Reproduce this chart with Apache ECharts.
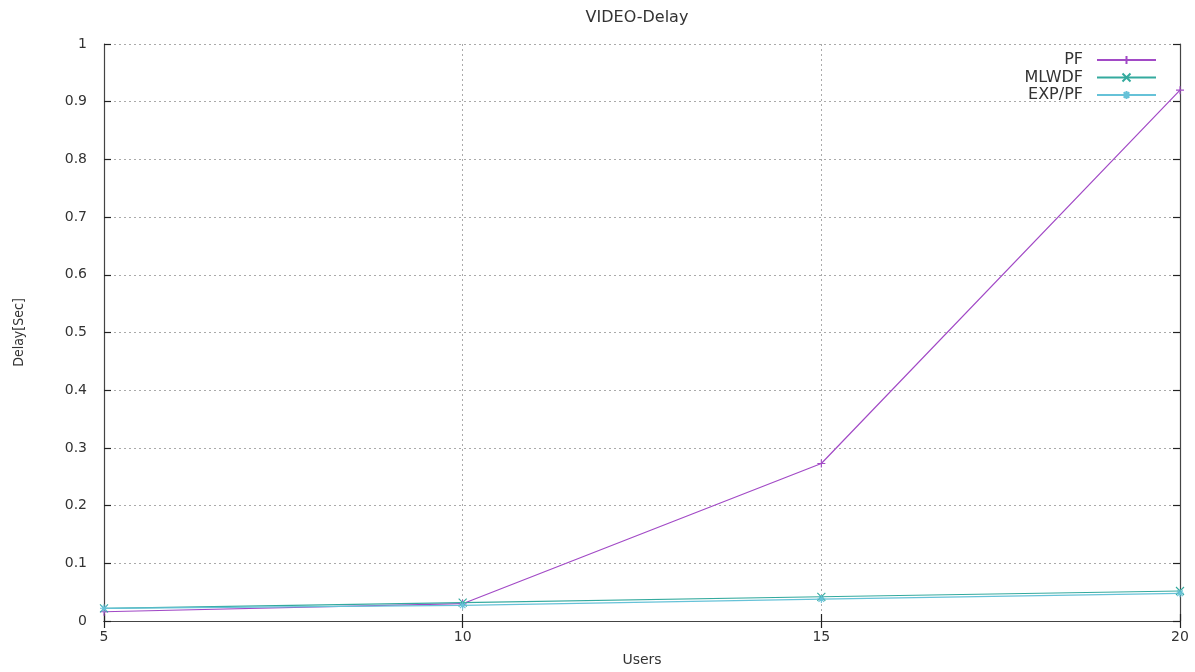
<!DOCTYPE html>
<html>
<head>
<meta charset="utf-8">
<script src="https://cdn.jsdelivr.net/npm/echarts@6/dist/echarts.min.js"></script>
<style>html,body{margin:0;padding:0;background:#fff}#c{width:1195px;height:672px}</style>
</head>
<body>
<div id="c"></div>
<script>
const users = [5, 10, 15, 20];
const pf = [0.016, 0.030, 0.273, 0.920];
const mlwdf = [0.022, 0.032, 0.042, 0.052];
const exppf = [0.022, 0.027, 0.038, 0.048];
const xTicks = { min: 5, max: 20, interval: 5 };
const yTicks = { min: 0, max: 1, interval: 0.1 };

const colors = ['#a24ac6', '#34aa9e', '#66c2d8'];
const symPlus = 'path://M0,5L10,5M5,0L5,10';
const symX = 'path://M0,0L10,10M10,0L0,10';
const symStar = 'path://M0,5L10,5M5,0L5,10M1.5,1.5L8.5,8.5M8.5,1.5L1.5,8.5';
const font = 'DejaVu Sans';
const txt = '#333';

function pairs(ys) { return users.map((u, i) => [u, ys[i]]); }
function mk(name, ys, color, sym) {
  return {
    name, type: 'line', data: pairs(ys), symbol: sym, symbolSize: 8,
    showSymbol: true, animation: false,
    lineStyle: { color, width: 1.2 },
    itemStyle: { color, borderColor: color, borderWidth: 1.1 }
  };
}
const gridLine = { show: true, lineStyle: { color: '#aaa', type: [2, 3], width: 1 } };
const axisLine = { show: true, lineStyle: { color: '#444', width: 1.2 } };
const tick = { show: true, inside: true, length: 7, lineStyle: { color: '#222', width: 1.2 } };

const chart = echarts.init(document.getElementById('c'));
chart.setOption({
  animation: false,
  backgroundColor: '#fff',
  title: { text: 'VIDEO-Delay', left: 632, textAlign: 'center', top: 5,
    textStyle: { fontFamily: font, fontSize: 16, fontWeight: 'normal', color: txt } },
  grid: { left: 104, right: 15, top: 44, bottom: 50 },
  legend: {
    orient: 'vertical', right: 38, top: 52, align: 'right', itemGap: 1.5, padding: 0,
    itemWidth: 59, itemHeight: 10,
    textStyle: { fontFamily: font, fontSize: 16, color: txt, padding: [0, 9, 0, 0] },
    data: ['PF', 'MLWDF', 'EXP/PF']
  },
  xAxis: [{
    type: 'value', min: xTicks.min, max: xTicks.max, interval: xTicks.interval,
    name: 'Users', nameLocation: 'middle', nameGap: 32,
    nameTextStyle: { fontFamily: font, fontSize: 14, color: txt },
    axisLine, axisTick: tick, splitLine: gridLine,
    axisLabel: { fontFamily: font, fontSize: 14, color: txt, margin: 9 }
  }, {
    type: 'value', position: 'top', min: xTicks.min, max: xTicks.max, interval: xTicks.interval,
    axisLine, axisTick: tick, splitLine: { show: false }, axisLabel: { show: false }
  }],
  yAxis: [{
    type: 'value', min: yTicks.min, max: yTicks.max, interval: yTicks.interval,
    name: 'Delay[Sec]', nameLocation: 'middle', nameGap: 78, nameRotate: 90,
    nameTextStyle: { fontFamily: "'Liberation Sans Narrow', 'DejaVu Sans Condensed', 'Liberation Sans', sans-serif", fontSize: 14, color: txt },
    axisLine, axisTick: tick, splitLine: gridLine,
    axisLabel: { fontFamily: font, fontSize: 14, color: txt, margin: 17 }
  }, {
    type: 'value', position: 'right', min: yTicks.min, max: yTicks.max, interval: yTicks.interval,
    axisLine, axisTick: tick, splitLine: { show: false }, axisLabel: { show: false }
  }],
  series: [
    mk('PF', pf, colors[0], symPlus),
    mk('MLWDF', mlwdf, colors[1], symX),
    mk('EXP/PF', exppf, colors[2], symStar)
  ]
});
</script>
</body>
</html>
